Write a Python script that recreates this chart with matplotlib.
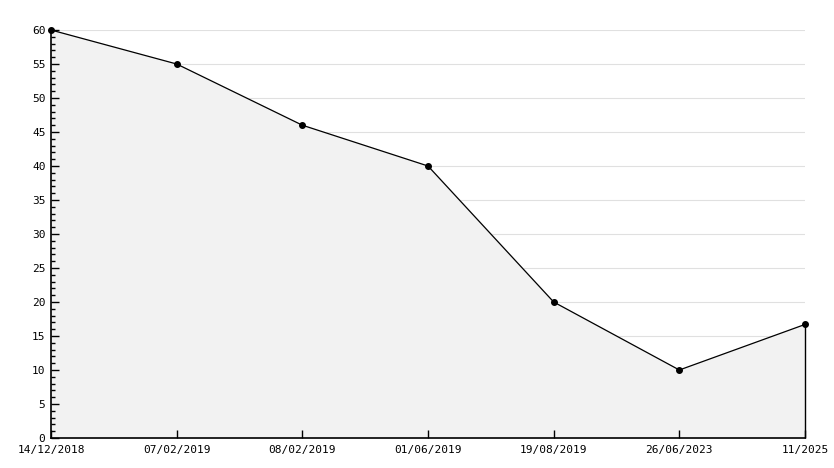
import matplotlib
matplotlib.use("Agg")
import matplotlib.pyplot as plt
from matplotlib.ticker import MultipleLocator

categories = ["14/12/2018", "07/02/2019", "08/02/2019", "01/06/2019",
              "19/08/2019", "26/06/2023", "11/2025"]
values = [60, 55, 46, 40, 20, 10, 16.7]

plt.rcParams['font.family'] = ['DejaVu Sans Mono', 'DejaVu Sans']

fig = plt.figure(figsize=(8.34, 4.68), dpi=100)
ax = fig.add_axes([51/834, 30/468, (805-51)/834, (438-30)/468])

x = list(range(len(categories)))
ax.fill_between(x, values, 0, color="#f2f2f2", zorder=1)
ax.plot(x, values, color="black", lw=0.9, marker="o", markersize=4, zorder=3,
        clip_on=False)
ax.vlines(x[-1], 0, values[-1], color="black", lw=1.0, zorder=3, clip_on=False)

ax.set_xlim(0, len(categories) - 1)
ax.set_ylim(0, 60)
ax.yaxis.set_major_locator(MultipleLocator(5))
ax.yaxis.set_minor_locator(MultipleLocator(1))
ax.set_xticks(x)
ax.set_xticklabels(categories)
for y in range(5, 61, 5):
    ax.axhline(y, color="#e0e0e0", lw=0.8, zorder=0)

for s in ["top", "right"]:
    ax.spines[s].set_visible(False)
for s in ["left", "bottom"]:
    ax.spines[s].set_linewidth(1.2)

ax.tick_params(axis="y", which="major", direction="in", length=6, width=1, labelsize=8, pad=4)
ax.tick_params(axis="y", which="minor", direction="in", length=3, width=1)
ax.tick_params(axis="x", which="major", direction="in", length=6, width=1, labelsize=8, pad=5)

fig.savefig("out.png", dpi=100, facecolor="white")
